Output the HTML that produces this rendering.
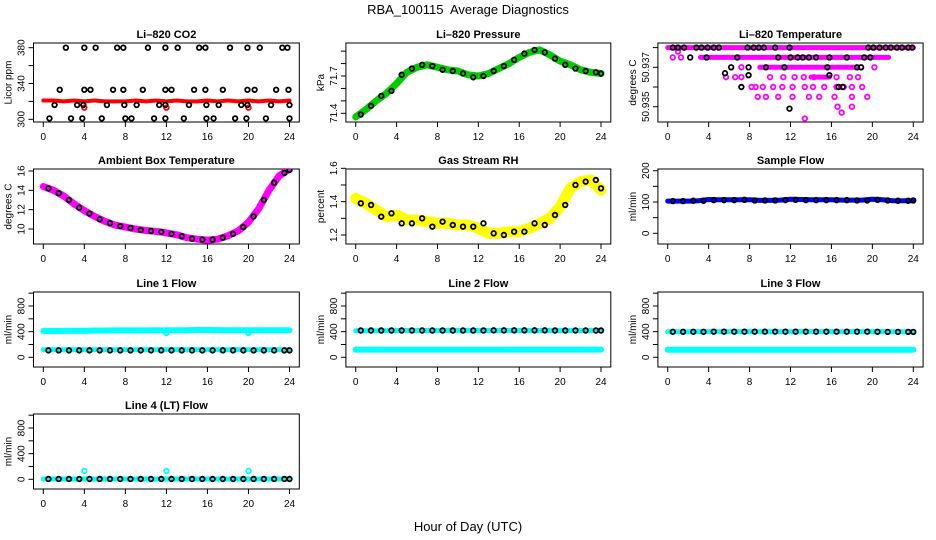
<!DOCTYPE html>
<html><head><meta charset="utf-8"><style>
body{margin:0;background:#fff}
svg{display:block;font-family:"Liberation Sans",sans-serif}
</style></head><body>
<svg id="chart" width="936" height="540" viewBox="0 0 936 540">
<rect x="0" y="0" width="936" height="540" fill="#fff"/>
<text x="468" y="14" font-size="13" text-anchor="middle" style="white-space:pre">RBA_100115  Average Diagnostics</text>
<text x="468" y="531" font-size="13" text-anchor="middle">Hour of Day (UTC)</text>
</svg>
<script>
const hours=[0,1,2,3,4,5,6,7,8,9,10,11,12,13,14,15,16,17,18,19,20,21,22,23,24];
const blackHours=[0.5,1.5,2.5,3.5,4.5,5.5,6.5,7.5,8.5,9.5,10.5,11.5,12.5,13.5,14.5,15.5,16.5,17.5,18.5,19.5,20.5,21.5,22.5,23.5,24];
const xTicks=[0,4,8,12,16,20,24];
// CO2
const co2Red=[321,321,320,321,320,321,320,320,320,321,320,321,320,321,320,320,321,320,321,320,321,320,321,320,321];
const co2RedOutT=[4,12,20];
const co2RedOutV=[313,313,313];
const co2BlackT=[2.2,4.0,5.1,7.2,7.8,10.2,11.9,13.1,15.2,15.8,18.2,19.9,21.1,23.3,23.8,1.6,4.0,4.6,6.8,7.8,9.7,11.9,12.5,14.7,15.8,17.5,19.9,20.6,22.7,23.9,1.1,3.3,3.9,6.2,7.9,9.1,11.3,11.9,14.2,15.9,17.1,19.3,19.9,22.2,24.0,0.6,2.7,3.8,5.7,8.0,8.6,10.8,11.9,13.7,15.9,16.6,18.7,19.8,21.7,24.0];
const co2BlackV=[380,380,380,380,380,380,380,380,380,380,380,380,380,380,380,333,333,333,333,333,333,333,333,333,333,333,333,333,333,333,316,316,316,316,316,316,316,316,316,316,316,316,316,316,316,301,301,301,301,301,301,301,301,301,301,301,301,301,301,301];
// Pressure
const presGreen=[71.37,71.43,71.50,71.56,71.64,71.73,71.77,71.79,71.77,71.75,71.74,71.71,71.70,71.72,71.76,71.80,71.85,71.89,71.91,71.87,71.82,71.79,71.75,71.73,71.72];
const presBlack=[71.39,71.46,71.54,71.58,71.71,71.76,71.79,71.78,71.75,71.74,71.72,71.69,71.70,71.74,71.78,71.83,71.88,71.91,71.89,71.84,71.79,71.76,71.74,71.73,71.72];
// Li-820 temperature
const tempRunStart=[0.0,3.2,9.0,14.0];
const tempRunEnd=[24.0,21.6,18.5,15.8];
const tempRunLevel=[50.938,50.9375,50.937,50.9365];
const tempMagT=[0.5,1.3,1.0,7.2,20.2,5.7,6.6,7.2,10.0,11.3,12.4,13.3,14.3,16.5,17.8,18.6,8.2,8.6,9.3,10.3,11.2,12.2,13.4,14.2,15.3,16.5,17.2,18.0,19.0,8.8,9.6,10.8,12.2,13.8,14.8,16.3,18.0,19.5,16.6,18.0,17.0,13.4];
const tempMagV=[50.9375,50.9375,50.9378,50.937,50.937,50.9365,50.9365,50.9365,50.9365,50.9365,50.9365,50.9365,50.9365,50.9365,50.9365,50.9365,50.936,50.936,50.936,50.936,50.936,50.936,50.936,50.936,50.936,50.936,50.936,50.936,50.936,50.9355,50.9355,50.9355,50.9355,50.9355,50.9355,50.9355,50.9355,50.9355,50.935,50.935,50.9347,50.9344];
const tempBlackT=[0.5,1.0,1.6,2.8,3.3,3.9,4.5,5.0,7.8,8.4,8.9,9.4,10.5,11.9,19.6,20.1,20.7,21.3,21.8,22.4,22.9,23.5,23.9,2.2,3.8,6.8,10.8,12.0,12.7,13.2,13.8,14.5,15.8,17.5,19.2,19.8,6.2,7.9,9.6,11.4,15.6,18.5,18.9,5.6,7.9,15.8,7.2,16.7,17.1,11.9];
const tempBlackV=[50.938,50.938,50.938,50.938,50.938,50.938,50.938,50.938,50.938,50.938,50.938,50.938,50.938,50.938,50.938,50.938,50.938,50.938,50.938,50.938,50.938,50.938,50.938,50.9375,50.9375,50.9375,50.9375,50.9375,50.9375,50.9375,50.9375,50.9375,50.9375,50.9375,50.9375,50.9375,50.937,50.937,50.937,50.937,50.937,50.937,50.937,50.9367,50.9366,50.9366,50.936,50.936,50.936,50.9349];
// Ambient box temperature
const ambMag=[14.4,14.0,13.4,12.6,11.9,11.3,10.8,10.4,10.2,10.0,9.85,9.75,9.6,9.4,9.1,8.95,8.85,8.95,9.3,9.8,10.7,12.1,14.0,15.5,16.2];
const ambBlack=[14.2,13.7,13.0,12.2,11.6,11.0,10.6,10.3,10.1,9.9,9.8,9.7,9.5,9.25,9.0,8.9,8.9,9.1,9.5,10.2,11.3,13.0,14.8,15.8,16.1];
// Gas stream RH
const rhYellow=[1.42,1.39,1.35,1.31,1.32,1.29,1.29,1.28,1.27,1.27,1.26,1.26,1.24,1.21,1.21,1.22,1.22,1.24,1.27,1.30,1.37,1.48,1.52,1.53,1.47];
const rhBlack=[1.39,1.38,1.31,1.33,1.27,1.27,1.30,1.25,1.28,1.26,1.25,1.25,1.27,1.21,1.20,1.22,1.22,1.27,1.26,1.32,1.38,1.50,1.52,1.53,1.48];
// Sample flow
const sfBlue=[103,103,103,104,108,107,107,107,107,105,105,106,109,108,107,107,107,106,106,106,109,107,104,104,104];
const sfBlack=[103,103,104,104,106,106,106,107,105,105,105,106,107,106,106,106,106,106,105,105,107,105,104,104,105];
// Line flows
const l1CyanHi=[410,410,412,414,412,418,418,420,420,420,420,421,420,421,422,425,426,424,423,423,423,423,423,422,422];
const l1CyanLo=[118,118,118,118,118,118,118,118,118,118,118,118,118,118,118,118,118,118,118,118,118,118,118,118,118];
const l1Black=[108,108,108,108,108,108,108,108,108,108,108,108,108,108,108,108,108,108,108,108,108,108,108,108,108];
const l1OutT=[12,20];
const l1OutV=[380,380];
const l2CyanHi=[415,415,415,416,418,418,418,418,418,418,418,418,418,418,418,418,418,418,418,418,418,418,418,418,418];
const l2CyanLo=[120,120,120,120,120,120,120,120,120,120,120,120,120,120,120,120,120,120,120,120,120,120,120,120,120];
const l2Black=[418,418,418,418,418,418,418,418,418,418,418,418,418,420,420,420,420,420,420,418,418,418,418,418,418];
const l3CyanHi=[398,398,398,400,400,400,400,400,400,400,400,400,400,400,400,400,400,400,400,400,400,400,398,398,398];
const l3CyanLo=[118,118,118,118,118,118,118,118,118,118,118,118,118,118,118,118,118,118,118,118,118,118,118,118,118];
const l3Black=[398,398,398,398,400,400,400,400,400,400,400,400,400,400,400,400,400,400,400,400,398,396,396,396,396];
const l4Cyan=[5,5,5,5,5,5,5,5,5,5,5,5,5,5,5,5,5,5,5,5,5,5,5,5,5];
const l4Black=[5,5,5,5,5,5,5,5,5,5,5,5,5,5,5,5,5,5,5,5,5,5,5,5,5];
const l4OutT=[4,12,20];
const l4OutV=[130,130,130];

const NS="http://www.w3.org/2000/svg";
const svg=document.getElementById('chart');
const COLX=[[43.3,289.5],[355.7,601],[667.7,913.3]];
const ROWY=[[43,122],[169,244],[292,367],[414,489]];
function mk(tag,attrs,parent){const e=document.createElementNS(NS,tag);for(const k in attrs)e.setAttribute(k,attrs[k]);(parent||svg).appendChild(e);return e;}
function xScale(c){const a=COLX[c][0],b=COLX[c][1];return h=>a+(b-a)*h/24;}
function yScale(v1,p1,v2,p2){return v=>p1+(v-v1)*(p2-p1)/(v2-v1);}

function axes(c,r,name,title,ylab,ticks,labels,Y){
  const g=mk('g',{});
  
  
  const X=xScale(c);
  const L=X(0)-9.8,R=X(24)+9.8,T=ROWY[r][0],B=ROWY[r][1];
  const t=mk('text',{x:(L+R)/2,y:T-5,'font-size':11,'font-weight':'bold','text-anchor':'middle'},g);
  t.textContent=title;
  
  
  const box=mk('rect',{x:L,y:T,width:R-L,height:B-T,fill:'none',stroke:'#000','stroke-width':1},g);
  
  
  xTicks.forEach(h=>{
    const tk=mk('line',{x1:X(h),x2:X(h),y1:B,y2:B+5,stroke:'#000'},g);
    
    
    const lb=mk('text',{x:X(h),y:B+18,'font-size':10,'text-anchor':'middle'},g);
    lb.textContent=h;
    
    
  });
  ticks.forEach(v=>{
    const y=Y(v);
    const tk=mk('line',{x1:L-5,x2:L,y1:y,y2:y,stroke:'#000'},g);
    
    
  });
  labels.forEach(v=>{
    const y=Y(v);
    const lb=mk('text',{x:L-9,y:y,'font-size':10,'text-anchor':'middle',transform:`rotate(-90 ${L-9} ${y})`},g);
    lb.textContent=v;
    
    
  });
  const yl=mk('text',{x:L-22,y:(T+B)/2,'font-size':10,'text-anchor':'middle',transform:`rotate(-90 ${L-22} ${(T+B)/2})`},g);
  yl.textContent=ylab;
  
  
  const clip=mk('clipPath',{id:'clip-'+name},g);
  mk('rect',{x:L,y:T,width:R-L,height:B-T},clip);
  const pg=mk('g',{'clip-path':`url(#clip-${name})`},g);
  
  
  return {X,g:pg};
}
function band(P,Y,ts,vs,color,w,name){
  const pts=ts.map((t,i)=>P.X(t).toFixed(1)+','+Y(vs[i]).toFixed(1)).join(' ');
  const pl=mk('polyline',{points:pts,fill:'none',stroke:color,'stroke-width':w,'stroke-linejoin':'round','stroke-linecap':'round'},P.g);
  
  
}
function dots(P,Y,ts,vs,color,name){
  ts.forEach((t,i)=>{
    const c=mk('circle',{cx:P.X(t),cy:Y(vs[i]),r:2.3,fill:'none',stroke:color,'stroke-width':1.8},P.g);
    
    
  });
}

let Y=yScale(380,47.7,300,119.3);
let P=axes(0,0,'co2','Li\u2013820 CO2','Licor ppm',[300,320,340,360,380],[300,340,380],Y);
band(P,Y,hours,co2Red,'#ff0000',4,'co2-red-band');
dots(P,Y,co2RedOutT,co2RedOutV,'#ff0000','co2-red-point');
dots(P,Y,co2BlackT,co2BlackV,'#000','co2-black-point');

Y=yScale(71.4,113.3,71.7,76);
P=axes(1,0,'pressure','Li\u2013820 Pressure','kPa',[71.4,71.5,71.6,71.7,71.8,71.9],[71.4,71.7],Y);
band(P,Y,hours,presGreen,'#00cc00',7,'pressure-green-band');
dots(P,Y,blackHours,presBlack,'#000','pressure-black-point');

Y=yScale(50.935,106.7,50.937,67.3);
P=axes(2,0,'li820-temp','Li\u2013820 Temperature','degrees C',[50.935,50.936,50.937,50.938],[50.935,50.937],Y);
tempRunStart.forEach((s,i)=>band(P,Y,[s,tempRunEnd[i]],[tempRunLevel[i],tempRunLevel[i]],'#ff00ff',5,'temp-magenta-run'));
dots(P,Y,tempMagT,tempMagV,'#ff00ff','temp-magenta-point');
dots(P,Y,tempBlackT,tempBlackV,'#000','temp-black-point');

Y=yScale(16,171,10,229);
P=axes(0,1,'ambient','Ambient Box Temperature','degrees C',[10,12,14,16],[10,12,14,16],Y);
band(P,Y,hours,ambMag,'#ff00ff',7,'ambient-magenta-band');
dots(P,Y,blackHours,ambBlack,'#000','ambient-black-point');

Y=yScale(1.6,168.3,1.2,235);
P=axes(1,1,'rh','Gas Stream RH','percent',[1.2,1.3,1.4,1.5,1.6],[1.2,1.4,1.6],Y);
band(P,Y,hours,rhYellow,'#ffff00',11,'rh-yellow-band');
dots(P,Y,blackHours,rhBlack,'#000','rh-black-point');

Y=yScale(200,170.7,0,233.3);
P=axes(2,1,'sample-flow','Sample Flow','ml/min',[0,50,100,150,200],[0,100,200],Y);
band(P,Y,hours,sfBlue,'#0000ff',5,'sample-blue-band');
dots(P,Y,blackHours,sfBlack,'#000','sample-black-point');

const fl=[0,200,400,600,800,1000],flL=[0,400,800];
Y=yScale(0,357.3,800,306);
P=axes(0,2,'line1','Line 1 Flow','ml/min',fl,flL,Y);
band(P,Y,hours,l1CyanHi,'#00ffff',6,'line1-cyan-high-band');
band(P,Y,hours,l1CyanLo,'#00ffff',5,'line1-cyan-low-band');
dots(P,Y,l1OutT,l1OutV,'#00ffff','line1-cyan-point');
dots(P,Y,blackHours,l1Black,'#000','line1-black-point');

P=axes(1,2,'line2','Line 2 Flow','ml/min',fl,flL,Y);
band(P,Y,hours,l2CyanLo,'#00ffff',6,'line2-cyan-low-band');
band(P,Y,hours,l2CyanHi,'#00ffff',5,'line2-cyan-high-band');
dots(P,Y,blackHours,l2Black,'#000','line2-black-point');

P=axes(2,2,'line3','Line 3 Flow','ml/min',fl,flL,Y);
band(P,Y,hours,l3CyanLo,'#00ffff',6,'line3-cyan-low-band');
band(P,Y,hours,l3CyanHi,'#00ffff',5,'line3-cyan-high-band');
dots(P,Y,blackHours,l3Black,'#000','line3-black-point');

Y=yScale(0,479.3,800,428);
P=axes(0,3,'line4','Line 4 (LT) Flow','ml/min',fl,flL,Y);
band(P,Y,hours,l4Cyan,'#00ffff',5,'line4-cyan-band');
dots(P,Y,l4OutT,l4OutV,'#00ffff','line4-cyan-point');
dots(P,Y,blackHours,l4Black,'#000','line4-black-point');
</script>
</body></html>
